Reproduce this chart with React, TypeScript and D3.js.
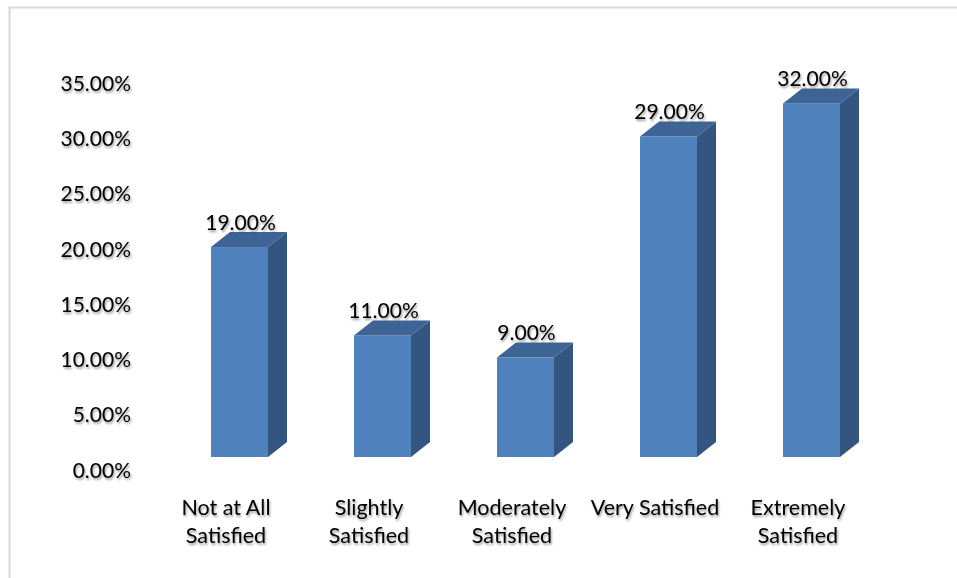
import React from "react";
import * as d3 from "d3";

const categories: string[][] = [
  ["Not at All", "Satisfied"],
  ["Slightly", "Satisfied"],
  ["Moderately", "Satisfied"],
  ["Very Satisfied"],
  ["Extremely", "Satisfied"],
];
const values: number[] = [19, 11, 9, 29, 32];
const yTicks: number[] = [0, 5, 10, 15, 20, 25, 30, 35];

const W = 957;
const H = 578;
const FONT = "Lato, 'Open Sans', sans-serif";

export default function App() {
  const y = d3.scaleLinear().domain([0, 35]).range([457, 457 - 35 * 11.05]);
  const x = d3
    .scaleBand<number>()
    .domain(d3.range(values.length))
    .range([140, 140 + 143 * 5])
    .paddingInner(0.6)
    .paddingOuter(0.3);
  const bw = 57;
  const dx = 19;
  const dy = -15;
  const fmt = (v: number) => v.toFixed(2) + "%";
  const x0 = 211 - x(0)!;

  return (
    <div style={{ position: "absolute", left: 0, top: 0 }}>
      <svg width={W} height={H} style={{ display: "block" }}>
        <defs>
          <filter id="ts" x="-10%" y="-20%" width="130%" height="160%">
            <feGaussianBlur in="SourceAlpha" stdDeviation="0.9" />
            <feOffset dx="1.2" dy="1.5" result="b" />
            <feComponentTransfer>
              <feFuncA type="linear" slope="0.4" />
            </feComponentTransfer>
            <feMerge>
              <feMergeNode />
              <feMergeNode in="SourceGraphic" />
            </feMerge>
          </filter>
        </defs>
        <rect width={W} height={H} fill="#fff" />
        <path d={`M9.5,${H} V7.5 H${W}`} fill="none" stroke="#d9d9d9" strokeWidth={2} />
        <g filter="url(#ts)" fontFamily={FONT} fontSize={21} fill="#000">
          {yTicks.map((t) => (
            <text key={t} x={131} y={y(t) + 12} textAnchor="end" dominantBaseline="central">
              {fmt(t)}
            </text>
          ))}
        </g>
        {values.map((v, i) => {
          const left = x(i)! + x0;
          const right = left + bw;
          const top = y(v);
          const bot = y(0);
          return (
            <g key={i}>
              <rect x={left} y={top} width={bw} height={bot - top} fill="#4F81BD" />
              <path
                d={`M${right},${top} L${right + dx},${top + dy} L${right + dx},${bot + dy} L${right},${bot} Z`}
                fill="#34557F"
              />
              <path
                d={`M${left},${top} L${left + dx},${top + dy} L${right + dx},${top + dy} L${right},${top} Z`}
                fill="#3D6494"
              />
            </g>
          );
        })}
        <g filter="url(#ts)" fontFamily={FONT} fontSize={21} fill="#000">
          {values.map((v, i) => (
            <text
              key={i}
              x={x(i)! + x0 + bw / 2 + 1}
              y={y(v) - 26}
              textAnchor="middle"
              dominantBaseline="central"
            >
              {fmt(v)}
            </text>
          ))}
          {categories.map((lines, i) => (
            <text key={i} textAnchor="middle" fontSize={21.5}>
              {lines.map((ln, j) => (
                <tspan
                  key={j}
                  x={x(i)! + x0 + bw / 2 - 13.5}
                  y={507 + j * 28}
                  dominantBaseline="central"
                >
                  {ln}
                </tspan>
              ))}
            </text>
          ))}
        </g>
      </svg>
    </div>
  );
}
